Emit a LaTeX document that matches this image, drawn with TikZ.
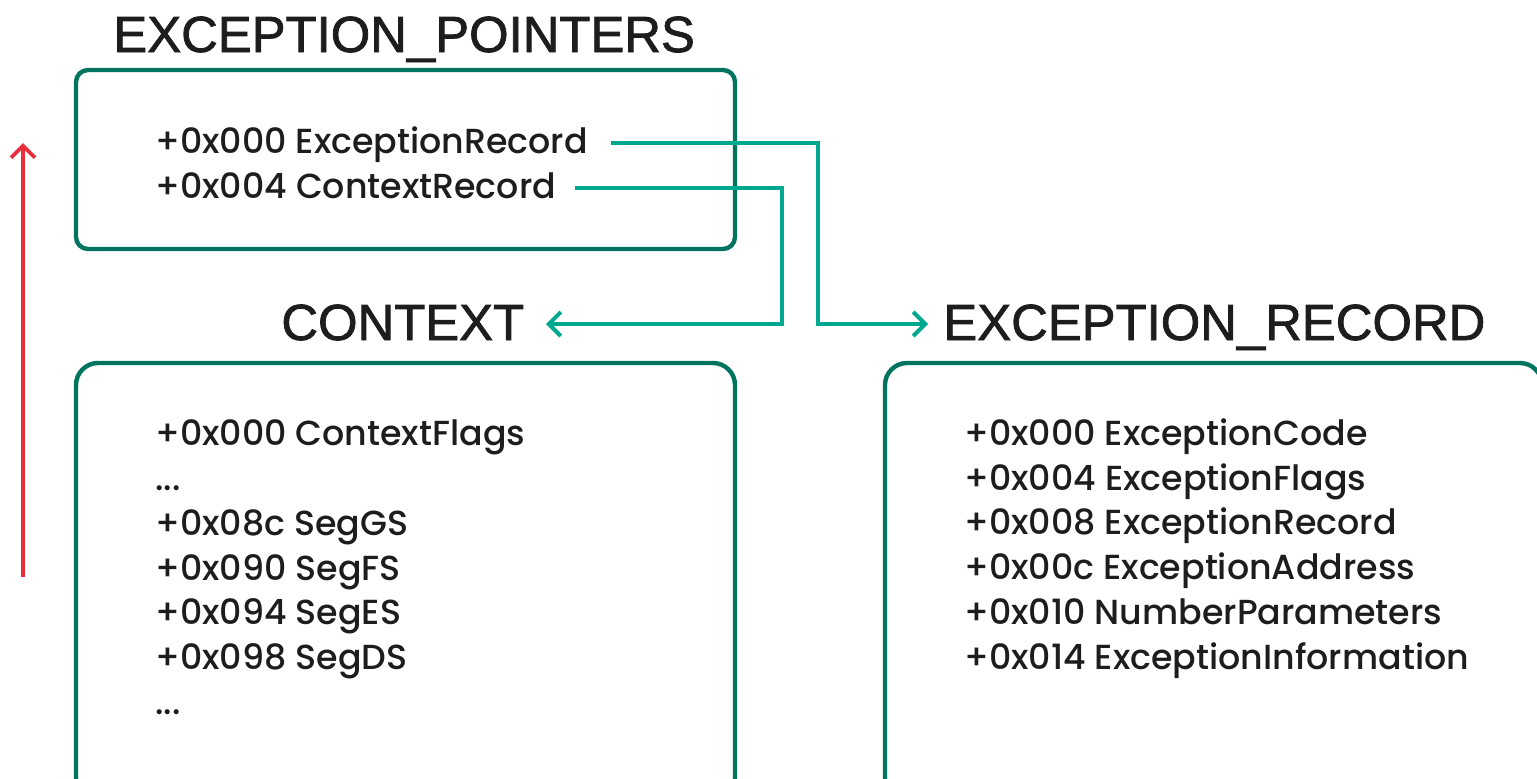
\documentclass[tikz,border=0pt]{standalone}
\usepackage{fontspec}
\setmainfont{Poppins}[UprightFont=* Medium]
\newfontfamily\titlefont{Liberation Sans}[FakeBold=1.5]
\usetikzlibrary{arrows.meta}
\definecolor{boxteal}{HTML}{00745F}
\definecolor{linkteal}{HTML}{00A88F}
\definecolor{arrred}{HTML}{EA2E3C}
\definecolor{ink}{HTML}{1D1D1B}
\tikzset{
  structbox/.style={draw=boxteal, line width=2.2pt},
  title/.style={anchor=base west, inner sep=0pt, text=ink, font=\titlefont\fontsize{25.4}{30}\selectfont},
  row/.style={anchor=base west, inner sep=0pt, text=ink, font=\fontsize{17.4}{20}\selectfont},
  link/.style={draw=linkteal, line width=2pt, -{Straight Barb[length=6pt,width=12pt,line width=2pt]}},
}
\begin{document}
\begin{tikzpicture}[x=0.5pt,y=-0.5pt]
\useasboundingbox (0,0) rectangle (1537,778);
\clip (0,0) rectangle (1537,778);
% titles
\node[title] (tp) at (113,52) {EXCEPTION\_POINTERS};
\node[title] (tc) at (281,340) {CONTEXT};
\node[title] (tr) at (943,340) {EXCEPTION\_RECORD};
% boxes
\draw[structbox, rounded corners=6pt] (76,70) rectangle (735,249);
\draw[structbox, rounded corners=11pt] (76,363) rectangle (735,800);
\draw[structbox, rounded corners=11pt] (885,363) rectangle (1542,800);
% EXCEPTION_POINTERS rows
\node[row] (p0) at (155,153) {+0x000 ExceptionRecord};
\node[row] (p4) at (155,198) {+0x004 ContextRecord};
% CONTEXT rows
\node[row] (c0) at (155,445) {+0x000 ContextFlags};
\node[row] (c1) at (155,490) {...};
\node[row] (c2) at (155,535) {+0x08c SegGS};
\node[row] (c3) at (155,580) {+0x090 SegFS};
\node[row] (c4) at (155,624) {+0x094 SegES};
\node[row] (c5) at (155,669) {+0x098 SegDS};
\node[row] (c6) at (155,714) {...};
% EXCEPTION_RECORD rows
\node[row] (r0) at (964,445) {+0x000 ExceptionCode};
\node[row] (r1) at (964,490) {+0x004 ExceptionFlags};
\node[row] (r2) at (964,534) {+0x008 ExceptionRecord};
\node[row] (r3) at (964,579) {+0x00c ExceptionAddress};
\node[row] (r4) at (964,624) {+0x010 NumberParameters};
\node[row] (r5) at (964,669) {+0x014 ExceptionInformation};
% connector endpoints
\coordinate (s1) at (611,143);
\coordinate (e1) at (928,324);
\coordinate (s2) at (575,188);
\coordinate (e2) at (546,324);
\draw[link] (s1) -- (818,143) -- (818,324) -- (e1);
\draw[link] (s2) -- (782,188) -- (782,324) -- (e2);
% red arrow
\coordinate (ra) at (23,577);
\coordinate (rb) at (23,143);
\draw[draw=arrred, line width=1.9pt, -{Straight Barb[length=6pt,width=12pt,line width=1.9pt]}] (ra) -- (rb);
\end{tikzpicture}
\end{document}
